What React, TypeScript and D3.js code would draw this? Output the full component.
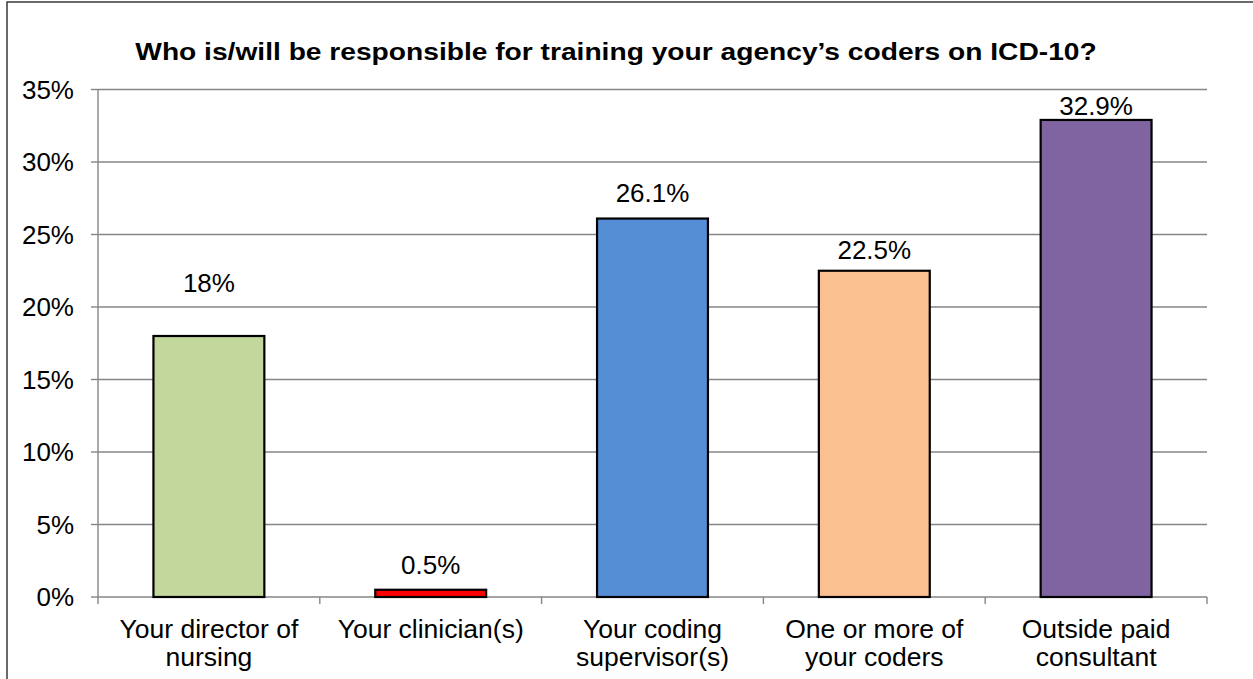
import React from 'react';
import * as d3 from 'd3';

const categories = [
  ['Your director of', 'nursing'],
  ['Your clinician(s)'],
  ['Your coding', 'supervisor(s)'],
  ['One or more of', 'your coders'],
  ['Outside paid', 'consultant'],
];
const values = [18, 0.5, 26.1, 22.5, 32.9];
const valueLabels = ['18%', '0.5%', '26.1%', '22.5%', '32.9%'];
const barColors = ['#C3D69B', '#FF0000', '#558ED5', '#FAC090', '#8064A2'];
const yTicks = [0, 5, 10, 15, 20, 25, 30, 35];
// labels were nudged by hand in the original, pixels above bar top
const labelLift = [44, 16, 17, 12, 5];

const title = 'Who is/will be responsible for training your agency\u2019s coders on ICD-10?';

const W = 1253;
const H = 679;
const font = '"Liberation Sans", Arial, sans-serif';
const grid = '#868686';

export default function App() {
  const left = 98;
  const right = 1207;
  const top = 89.5;
  const bottom = 597;

  const keys = categories.map((c) => c.join(' '));
  const x = d3.scaleBand<string>().domain(keys).range([left, right]).paddingInner(0.5).paddingOuter(0.25);
  const y = d3.scaleLinear().domain([0, 35]).range([bottom, top]);
  const step = x.step();

  return (
    <svg width={W} height={H} style={{ position: 'absolute', left: 0, top: 0, background: '#fff' }}>
      <rect x={7} y={2} width={1300} height={760} fill="#fff" stroke="#3a3a3a" strokeWidth={1.5} />
      <text
        transform={`translate(616,60) scale(1.15,1)`}
        textAnchor="middle"
        fontFamily={font}
        fontWeight="bold"
        fontSize={24.5}
        fill="#000"
      >
        {title}
      </text>

      {/* gridlines and y ticks */}
      {yTicks.map((t) => (
        <g key={t}>
          {t > 0 && <line x1={left} x2={right} y1={y(t)} y2={y(t)} stroke={grid} strokeWidth={1.4} />}
          <line x1={left - 7} x2={left} y1={y(t)} y2={y(t)} stroke={grid} strokeWidth={1.4} />
          <text
            x={74}
            y={y(t)}
            dy="0.36em"
            textAnchor="end"
            fontFamily={font}
            fontSize={26}
            fill="#000"
          >
            {t + '%'}
          </text>
        </g>
      ))}

      {/* axes */}
      <line x1={left} x2={left} y1={top} y2={bottom} stroke={grid} strokeWidth={1.4} />
      <line x1={left} x2={right} y1={bottom} y2={bottom} stroke={grid} strokeWidth={1.4} />
      {d3.range(keys.length + 1).map((i) => (
        <line
          key={i}
          x1={left + i * step}
          x2={left + i * step}
          y1={bottom}
          y2={bottom + 7}
          stroke={grid}
          strokeWidth={1.4}
        />
      ))}

      {/* bars */}
      {keys.map((k, i) => (
        <rect
          key={k}
          x={x(k)}
          y={y(values[i])}
          width={x.bandwidth()}
          height={bottom - y(values[i])}
          fill={barColors[i]}
          stroke="#000"
          strokeWidth={2.2}
        />
      ))}

      {/* value labels */}
      {keys.map((k, i) => (
        <text
          key={k}
          x={(x(k) as number) + x.bandwidth() / 2}
          y={y(values[i]) - labelLift[i]}
          textAnchor="middle"
          fontFamily={font}
          fontSize={26}
          fill="#000"
        >
          {valueLabels[i]}
        </text>
      ))}

      {/* category labels */}
      {categories.map((lines, i) => (
        <text
          key={i}
          x={(x(keys[i]) as number) + x.bandwidth() / 2}
          y={638}
          textAnchor="middle"
          fontFamily={font}
          fontSize={26.5}
          fill="#000"
        >
          {lines.map((l, j) => (
            <tspan key={j} x={(x(keys[i]) as number) + x.bandwidth() / 2} dy={j === 0 ? 0 : 28}>
              {l}
            </tspan>
          ))}
        </text>
      ))}
    </svg>
  );
}
